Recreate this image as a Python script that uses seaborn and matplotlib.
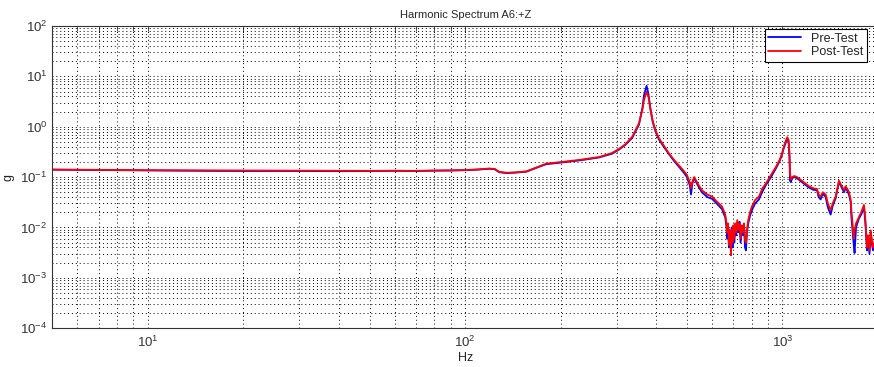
import matplotlib
matplotlib.use("Agg")
import matplotlib.pyplot as plt
import seaborn as sns
import pandas as pd

# Harmonic Spectrum A6:+Z - pre/post test comparison

hz = [5, 6, 8, 10, 15, 20, 30, 40, 50, 60, 70, 80, 90, 100, 110, 119, 124, 128,
      135, 145, 156, 170, 180, 202, 230, 264, 290, 305, 320, 336, 353, 362, 366,
      373, 378, 384, 390, 398, 408, 425, 438, 455, 472, 490, 500, 510, 515, 520,
      527, 540, 557, 580, 600, 620,
      645, 652, 660, 665, 670, 674, 678, 681, 685, 688, 692, 696, 700, 705, 710,
      715, 720, 726, 732, 738, 744, 750, 756, 762, 767, 773, 780, 790, 801,
      820, 843, 865, 887, 920, 954, 980, 996,
      1010, 1026, 1035, 1045, 1052, 1056, 1062, 1073, 1090, 1111, 1150, 1211,
      1250, 1284, 1300, 1319, 1340, 1368, 1390, 1418, 1440, 1471, 1490, 1506,
      1530, 1562, 1580, 1596, 1620, 1640, 1650, 1659, 1675, 1687, 1705, 1741,
      1770, 1806, 1820, 1828, 1846, 1860, 1880, 1897, 1915, 1928, 1960, 2000]

g_post = [0.14, 0.14, 0.138, 0.137, 0.136, 0.135, 0.134, 0.134, 0.133, 0.134,
          0.133, 0.135, 0.136, 0.138, 0.142, 0.148, 0.145, 0.127, 0.122, 0.124,
          0.13, 0.16, 0.185, 0.2, 0.22, 0.25, 0.3, 0.36, 0.45, 0.63, 1.17, 2.2,
          3.4, 4.9, 4.0, 2.1, 1.3, 0.85, 0.59, 0.4, 0.3, 0.22, 0.17, 0.13, 0.11,
          0.08, 0.06, 0.08, 0.1, 0.075, 0.055, 0.045, 0.041, 0.033,
          0.026, 0.022, 0.018, 0.013, 0.008, 0.012, 0.0045, 0.009, 0.006, 0.0028,
          0.009, 0.005, 0.011, 0.006, 0.012, 0.008, 0.014, 0.009, 0.012, 0.006,
          0.011, 0.008, 0.012, 0.0055, 0.0049, 0.009, 0.014, 0.02, 0.026,
          0.035, 0.041, 0.06, 0.075, 0.11, 0.16, 0.22, 0.29,
          0.4, 0.54, 0.62, 0.55, 0.3, 0.12, 0.09, 0.1, 0.105, 0.1,
          0.085, 0.066, 0.06, 0.058, 0.045, 0.041, 0.05, 0.045, 0.03, 0.022,
          0.03, 0.041, 0.06, 0.085, 0.07, 0.055, 0.065, 0.06, 0.05, 0.036, 0.02,
          0.014, 0.006, 0.009, 0.012, 0.016, 0.02, 0.028, 0.018, 0.012, 0.004,
          0.007, 0.0035, 0.0087, 0.005, 0.004, 0.006, 0.005]

g_pre = [0.141, 0.139, 0.137, 0.135, 0.133, 0.132, 0.132, 0.131, 0.132, 0.133,
         0.132, 0.134, 0.135, 0.137, 0.141, 0.146, 0.143, 0.125, 0.12, 0.123,
         0.128, 0.158, 0.18, 0.195, 0.215, 0.245, 0.29, 0.35, 0.44, 0.6, 1.1,
         2.4, 4.2, 6.5, 4.5, 2.2, 1.25, 0.8, 0.56, 0.38, 0.29, 0.21, 0.16, 0.12,
         0.1, 0.07, 0.045, 0.075, 0.095, 0.07, 0.05, 0.04, 0.037, 0.03,
         0.023, 0.019, 0.016, 0.011, 0.006, 0.01, 0.004, 0.008, 0.0045, 0.006,
         0.01, 0.004, 0.009, 0.005, 0.011, 0.007, 0.012, 0.008, 0.013, 0.005,
         0.01, 0.007, 0.011, 0.004, 0.0035, 0.008, 0.012, 0.017, 0.022,
         0.03, 0.036, 0.052, 0.07, 0.1, 0.15, 0.21, 0.28,
         0.38, 0.5, 0.58, 0.5, 0.25, 0.085, 0.08, 0.095, 0.1,
         0.095, 0.08, 0.062, 0.056, 0.055, 0.04, 0.036, 0.047, 0.04, 0.025,
         0.018, 0.027, 0.038, 0.058, 0.08, 0.065, 0.05, 0.06, 0.055, 0.045,
         0.032, 0.015, 0.01, 0.005, 0.0031, 0.01, 0.015, 0.018, 0.025, 0.015,
         0.01, 0.0035, 0.006, 0.003, 0.008, 0.0045, 0.0035, 0.005, 0.0045]

series_names = ["Pre-Test", "Post-Test"]
series_colors = {"Pre-Test": "#0000ff", "Post-Test": "#ff0000"}

df = pd.concat([
    pd.DataFrame({"Hz": hz, "g": g_pre, "series": "Pre-Test"}),
    pd.DataFrame({"Hz": hz, "g": g_post, "series": "Post-Test"}),
], ignore_index=True)

sns.set_style("white")
plt.rcParams["font.family"] = ["Liberation Sans", "DejaVu Sans"]
plt.rcParams["mathtext.default"] = "regular"

fig = plt.figure(figsize=(8.74, 3.67), dpi=100)
ax = fig.add_axes([0.0598, 0.106, 1.0046 - 0.0598, 0.823])

sns.lineplot(data=df, x="Hz", y="g", hue="series", hue_order=series_names,
             palette=series_colors, estimator=None, sort=False, linewidth=1.3,
             ax=ax)

ax.set_xscale("log")
ax.set_yscale("log")
ax.set_xlim(5, 2000)
ax.set_ylim(1e-4, 1e2)

# matlab-like dotted grid on major and minor ticks
ax.grid(True, which="both", linestyle=(0, (1, 3)), color="black", linewidth=0.7)
ax.tick_params(which="both", direction="in", top=True, right=True,
               length=3.5, width=0.6, labelsize=9.5, colors="#333333")
ax.tick_params(axis="x", which="major", pad=5)
for sp in ax.spines.values():
    sp.set_color("#333333")
    sp.set_linewidth(0.8)
ax.spines["right"].set_visible(False)

ax.set_title("Harmonic Spectrum A6:+Z", fontsize=8, pad=6)
ax.set_xlabel("Hz", fontsize=9, labelpad=1)
ax.set_ylabel("g", fontsize=9, labelpad=4)

leg = ax.legend(loc="upper right", bbox_to_anchor=(867 / 874, 1 - 29 / 367),
                bbox_transform=fig.transFigure, borderaxespad=0,
                fancybox=False, edgecolor="black", framealpha=1,
                fontsize=9, handlelength=2.6, borderpad=0.3, labelspacing=0.1)
leg.get_frame().set_linewidth(0.8)

fig.savefig("out.png", dpi=100)
